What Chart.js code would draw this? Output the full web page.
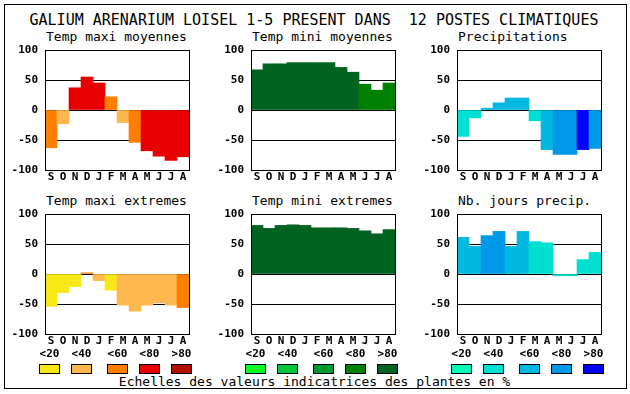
<!DOCTYPE html>
<html>
<head>
<meta charset="utf-8">
<script src="https://cdn.jsdelivr.net/npm/chart.js@4.4.1/dist/chart.umd.min.js"></script>
<style>
  body { margin: 0; background: #fff; width: 630px; height: 394px; position: relative; overflow: hidden;
         font-family: "DejaVu Sans Mono", monospace; color: #000; }
  #frame { position: absolute; left: 4px; top: 4px; width: 621px; height: 383px; border: 1px solid #000; }
  .txt { position: absolute; white-space: pre; line-height: 15px; }
  .panel-title { position: absolute; font-size: 13px; line-height: 13px; white-space: pre; }
  canvas { position: absolute; }
  .lbl { position: absolute; width: 21px; text-align: center; font-size: 11px; font-weight: bold; line-height: 11px; }
  .sw { position: absolute; width: 19px; height: 8px; border: 1px solid #000; }
</style>
</head>
<body>
<div id="frame"></div>
<div class="txt" style="left:0;width:628px;text-align:center;top:13px;font-size:15px;">GALIUM ARENARIUM LOISEL 1-5 PRESENT DANS  12 POSTES CLIMATIQUES</div>
<div class="txt" style="left:0;width:629px;text-align:center;top:374px;font-size:13px;">Echelles des valeurs indicatrices des plantes en %</div>
<div id="panels"></div>
<script>
// Data
const months = ['S', 'O', 'N', 'D', 'J', 'F', 'M', 'A', 'M', 'J', 'J', 'A'];

const maxiMoy = [-63, -23, 37, 55, 45, 22, -21, -54, -68, -77, -84, -78];
const maxiMoyClass = [2, 1, 3, 3, 3, 2, 1, 2, 3, 3, 3, 3];

const miniMoy = [67, 77, 77, 79, 79, 79, 79, 71, 63, 43, 33, 45];
const miniMoyClass = [4, 4, 4, 4, 4, 4, 4, 4, 4, 3, 3, 3];

const precip = [-44, -13, 3, 12, 20, 20, -18, -66, -74, -74, -66, -64];
const precipClass = [1, 1, 2, 2, 2, 2, 1, 2, 3, 3, 4, 3];

const maxiExt = [-54, -31, -21, 2, -11, -27, -52, -62, -52, -48, -52, -56];
const maxiExtClass = [0, 0, 0, 2, 1, 0, 1, 1, 1, 1, 1, 2];

const miniExt = [81, 76, 81, 82, 81, 77, 77, 77, 76, 72, 67, 74];
const miniExtClass = [4, 4, 4, 4, 4, 4, 4, 4, 4, 4, 4, 4];

const nbJours = [61, 46, 64, 71, 46, 71, 54, 52, -3, -3, 24, 36];
const nbJoursClass = [2, 2, 3, 3, 2, 2, 1, 1, 1, 1, 1, 1];

const classLabels = ['<20', '<40', '<60', '<80', '>80'];

// Colour scales
const warmColors = ['#f8e818', '#ffb850', '#ff8000', '#e80000', '#b01000'];
const greenColors = ['#00ff20', '#00c838', '#00982e', '#008000', '#006420'];
const blueColors = ['#00ffb8', '#00e0d0', '#00b8e0', '#0098e8', '#0000ff'];

const panels = [
    { title: 'Temp maxi moyennes', values: maxiMoy, cls: maxiMoyClass, pal: warmColors, x: 45, y: 50 },
    { title: 'Temp mini moyennes', values: miniMoy, cls: miniMoyClass, pal: greenColors, x: 251, y: 50 },
    { title: 'Precipitations', values: precip, cls: precipClass, pal: blueColors, x: 457, y: 50 },
    { title: 'Temp maxi extremes', values: maxiExt, cls: maxiExtClass, pal: warmColors, x: 45, y: 214 },
    { title: 'Temp mini extremes', values: miniExt, cls: miniExtClass, pal: greenColors, x: 251, y: 214 },
    { title: 'Nb. jours precip.', values: nbJours, cls: nbJoursClass, pal: blueColors, x: 457, y: 214 }
];

const monoFont = '"DejaVu Sans Mono", monospace';

// box round the plot area
const boxPlugin = {
    id: 'box',
    afterDraw(chart) {
        const a = chart.chartArea;
        const ctx = chart.ctx;
        ctx.save();
        ctx.strokeStyle = '#000';
        ctx.lineWidth = 1;
        ctx.strokeRect(Math.round(a.left) + 0.5, Math.round(a.top) + 0.5,
            Math.round(a.right - a.left), Math.round(a.bottom - a.top));
        ctx.restore();
    }
};

const holder = document.getElementById('panels');

panels.forEach(function (p) {
    let t = document.createElement('div');
    t.className = 'panel-title';
    t.style.left = (p.x + 1) + 'px';
    t.style.top = (p.y - 20) + 'px';
    t.textContent = p.title;
    holder.appendChild(t);

    let cv = document.createElement('canvas');
    cv.width = 195;
    cv.height = 150;
    cv.style.left = (p.x - 45) + 'px';
    cv.style.top = (p.y - 8) + 'px';
    holder.appendChild(cv);

    new Chart(cv.getContext('2d'), {
        type: 'bar',
        data: {
            labels: months,
            datasets: [{
                data: p.values,
                backgroundColor: p.cls.map(c => p.pal[c]),
                borderWidth: 0,
                categoryPercentage: 1,
                barPercentage: 1
            }]
        },
        options: {
            responsive: false,
            animation: false,
            devicePixelRatio: 1,
            layout: { padding: { top: 8, right: 6, left: 0, bottom: 0 } },
            plugins: { legend: { display: false }, tooltip: { enabled: false }, title: { display: false } },
            scales: {
                x: {
                    grid: { display: false, drawTicks: false },
                    border: { display: false },
                    ticks: {
                        color: '#000', padding: 1, maxRotation: 0, autoSkip: false,
                        font: { family: monoFont, size: 11, weight: 'bold' }
                    },
                    afterFit(scale) {
                        scale.height = 22;
                        scale.paddingLeft = 0;
                        scale.paddingRight = 0;
                    }
                },
                y: {
                    min: -100,
                    max: 100,
                    z: 1,
                    grid: { color: '#000', lineWidth: 1, drawTicks: false },
                    border: { display: true, color: '#000' },
                    ticks: {
                        stepSize: 50, color: '#000', padding: 7,
                        font: { family: monoFont, size: 11, weight: 'bold' }
                    },
                    afterFit(scale) {
                        scale.width = 45;
                        scale.paddingTop = 0;
                        scale.paddingBottom = 0;
                    }
                }
            }
        },
        plugins: [boxPlugin]
    });
});

// colour scale keys under the bottom row
const keyGroups = [
    { pal: warmColors, x: 39 },
    { pal: greenColors, x: 245 },
    { pal: blueColors, x: 451 }
];
const keyOffsets = [0, 32, 68, 100, 132];

keyGroups.forEach(function (g) {
    classLabels.forEach(function (lab, i) {
        let l = document.createElement('div');
        l.className = 'lbl';
        l.style.left = (g.x + keyOffsets[i]) + 'px';
        l.style.top = '348px';
        l.textContent = lab;
        holder.appendChild(l);

        let s = document.createElement('div');
        s.className = 'sw';
        s.style.left = (g.x + keyOffsets[i]) + 'px';
        s.style.top = '364px';
        s.style.background = g.pal[i];
        holder.appendChild(s);
    });
});
</script>
</body>
</html>
